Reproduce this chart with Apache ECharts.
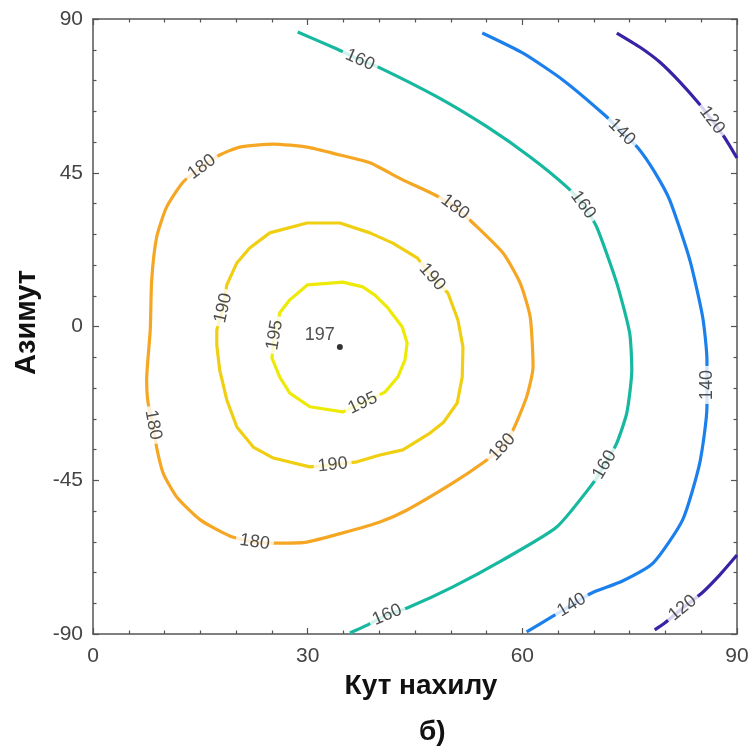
<!DOCTYPE html>
<html>
<head>
<meta charset="utf-8">
<script src="https://cdn.jsdelivr.net/npm/echarts@6/dist/echarts.min.js"></script>
<style>
  html, body { margin: 0; padding: 0; background: #fff; }
  #chart { width: 752px; height: 751px; }
</style>
</head>
<body>
<div id="chart"></div>
<script>
// axis ticks
var xTicks = [0, 30, 60, 90];
var yTicks = [-90, -45, 0, 45, 90];

// contour lines [кут нахилу, азимут]
var c120a = [[73.2, 85.9], [76.4, 81.8], [79.2, 77.4], [82.0, 71.6], [84.5, 65.7], [86.5, 60.4], [88.3, 55.2], [90, 49.3]];
var c120b = [[78.5, -88.8], [79.9, -86.8], [82.4, -82.4], [85.1, -78.0], [87.6, -72.7], [90, -66.9]];
var c140 = [[54.4, 85.9], [60.1, 80.0], [65.7, 72.1], [71.5, 61.9], [73.9, 56.9], [76.2, 52.2], [78.5, 45.2], [80.6, 37.0],
  [83.4, 19.5], [85.2, 2.8], [85.8, -9.8], [85.8, -17.1], [85.8, -23.5], [84.8, -39.9], [82.4, -56.6], [78.3, -69.2],
  [74.0, -74.5], [69.7, -78.0], [66.9, -81.5], [64.1, -85.0], [60.6, -89.4]];
var c160 = [[28.6, 86.2], [34.1, 81.2], [37.3, 78.0], [39.8, 76.0], [48.1, 67.2], [55.1, 58.4], [61.1, 49.6], [66.4, 40.5],
  [68.5, 35.6], [70.4, 29.1], [73.2, 12.7], [75.0, -1.9], [75.3, -12.7], [74.6, -25.3], [73.2, -34.1], [71.5, -40.5],
  [69.9, -45.8], [64.8, -58.7], [57.3, -68.3], [50.3, -76.2], [43.9, -82.4], [41.1, -84.4], [38.0, -87.7], [35.9, -89.7]];
var c180 = [[15.2, 46.7], [17.7, 50.2], [20.5, 52.5], [25.2, 53.4], [29.9, 52.5], [34.5, 50.2], [38.7, 47.9], [43.3, 42.9],
  [47.8, 38.5], [50.6, 35.0], [53.1, 30.3], [57.3, 21.5], [59.7, 12.7], [61.1, 2.8], [61.5, -11.8], [60.6, -20.6],
  [58.7, -30.3], [57.2, -35.3], [54.5, -39.9], [50.3, -45.8], [43.9, -53.7], [40.1, -57.2], [34.9, -60.4], [29.9, -63.1],
  [25.7, -63.4], [22.6, -63.1], [19.1, -61.3], [15.0, -56.6], [11.7, -49.9], [9.8, -42.9], [8.9, -35.5], [8.4, -28.8],
  [7.7, -22.4], [7.5, -15.6], [8.0, -1.0], [8.2, 13.6], [8.9, 26.2], [10.3, 35.0], [12.6, 42.3], [15.2, 46.7]];
var c190 = [[18.2, 5.4], [18.7, 12.2], [20.1, 18.6], [21.9, 23.0], [24.7, 27.4], [29.9, 30.3], [34.5, 30.3], [38.7, 27.4],
  [41.9, 24.4], [45.3, 20.1], [47.4, 14.5], [49.6, 9.8], [51.0, 1.9], [51.7, -6.0], [51.6, -14.8], [50.9, -22.4],
  [49.0, -28.0], [47.1, -31.2], [43.3, -36.1], [40.1, -37.6], [36.9, -39.6], [33.5, -40.5], [30.3, -41.1], [25.2, -38.5],
  [22.4, -35.3], [20.1, -29.4], [18.7, -21.5], [17.7, -12.7], [17.3, -5.4], [17.3, -1.0], [18.2, 5.4]];
var c195 = [[25.4, -2.5], [26.1, 4.0], [27.5, 7.8], [30.0, 12.2], [34.9, 13.0], [37.7, 11.6], [39.4, 9.2], [41.1, 5.7],
  [43.2, -0.1], [43.9, -4.8], [43.6, -9.8], [42.6, -14.8], [40.8, -19.2], [37.7, -22.4], [34.9, -25.0], [30.3, -23.5],
  [27.5, -19.5], [26.1, -14.8], [25.0, -9.2], [25.4, -2.5]];

// where the level numbers sit on the lines [x, y, level]
var contourLabels = [
  [86.5, 60.4, 120], [82.4, -82.4, 120],
  [73.9, 56.9, 140], [85.8, -17.1, 140], [66.9, -81.5, 140],
  [37.3, 78.0, 160], [68.5, 35.6, 160], [71.5, -40.5, 160], [41.1, -84.4, 160],
  [15.2, 46.7, 180], [50.6, 35.0, 180], [57.2, -35.3, 180], [22.6, -63.1, 180], [8.4, -28.8, 180],
  [18.2, 5.4, 190], [47.4, 14.5, 190], [33.5, -40.5, 190],
  [25.4, -2.5, 195], [37.7, -22.4, 195]
];
var peak = [34.5, -6.0];
var peakValue = 197;

var levelLines = {
  120: [c120a, c120b],
  140: [c140],
  160: [c160],
  180: [c180],
  190: [c190],
  195: [c195]
};
var levelColors = {
  120: "#3a22a6",
  140: "#1c80ec",
  160: "#17b8a0",
  180: "#f5a623",
  190: "#f0cf12",
  195: "#eeea08"
};

var font = "Liberation Sans, Arial, sans-serif";
var axisColor = "#555";

function boxAxis(extra) {
  var a = {
    type: "value",
    axisLine: { show: true, onZero: false, lineStyle: { color: axisColor, width: 1.5 } },
    axisTick: { show: true, inside: true, length: 6, lineStyle: { color: axisColor, width: 1.2 } },
    minorTick: { show: true, length: 3.5, lineStyle: { color: axisColor, width: 1.2 } },
    splitLine: { show: false },
    minorSplitLine: { show: false },
    axisLabel: { show: false }
  };
  for (var k in extra) a[k] = extra[k];
  return a;
}

var series = [];
Object.keys(levelLines).forEach(function (lv) {
  levelLines[lv].forEach(function (pts) {
    series.push({
      type: "line",
      data: pts,
      xAxisIndex: 0,
      yAxisIndex: 0,
      showSymbol: false,
      symbol: "none",
      smooth: lv >= 190 ? false : 0.2,
      lineStyle: { color: levelColors[lv], width: 3.2 },
      z: 2,
      silent: true
    });
  });
});

series.push({
  type: "scatter",
  data: [peak],
  symbol: "circle",
  symbolSize: 6,
  itemStyle: { color: "#000" },
  label: {
    show: true,
    position: "left",
    distance: 2,
    offset: [0, -12],
    formatter: String(peakValue),
    color: "#222",
    fontSize: 18,
    fontFamily: font
  },
  z: 6,
  silent: true
});

var option = {
  animation: false,
  backgroundColor: "#fff",
  grid: { left: 93, right: 15, top: 19, bottom: 117, containLabel: false },
  xAxis: [
    boxAxis({
      position: "bottom",
      min: xTicks[0],
      max: xTicks[xTicks.length - 1],
      interval: 30,
      minorTick: { show: true, splitNumber: 6, length: 3.5, lineStyle: { color: axisColor, width: 1.2 } },
      axisLabel: { show: true, color: "#444", fontSize: 21, fontFamily: font, margin: 12 },
      name: "Кут нахилу",
      nameLocation: "middle",
      nameGap: 35,
      nameTextStyle: { fontSize: 28, fontWeight: "bold", color: "#111", fontFamily: font, padding: [0, 0, 0, 12] }
    }),
    boxAxis({
      position: "top",
      min: xTicks[0],
      max: xTicks[xTicks.length - 1],
      interval: 30,
      minorTick: { show: true, splitNumber: 6, length: 3.5, lineStyle: { color: axisColor, width: 1.2 } }
    })
  ],
  yAxis: [
    boxAxis({
      position: "left",
      min: yTicks[0],
      max: yTicks[yTicks.length - 1],
      interval: 45,
      minorTick: { show: true, splitNumber: 5, length: 3.5, lineStyle: { color: axisColor, width: 1.2 } },
      axisLabel: { show: true, color: "#444", fontSize: 21, fontFamily: font, margin: 10 },
      name: "Азимут",
      nameLocation: "middle",
      nameGap: 52,
      nameRotate: 90,
      nameTextStyle: { fontSize: 29, fontWeight: "bold", color: "#111", fontFamily: font, padding: [0, 0, 0, 8] }
    }),
    boxAxis({
      position: "right",
      min: yTicks[0],
      max: yTicks[yTicks.length - 1],
      interval: 45,
      minorTick: { show: true, splitNumber: 5, length: 3.5, lineStyle: { color: axisColor, width: 1.2 } }
    })
  ],
  graphic: [
    {
      type: "text",
      left: 419,
      top: 718,
      style: { text: "б)", fontSize: 28, fontWeight: "bold", fill: "#111", fontFamily: font }
    }
  ],
  series: series
};

var myChart = echarts.init(document.getElementById("chart"));
myChart.setOption(option);

// label angle follows the contour line at that spot
function labelAngle(lbl) {
  var lines = levelLines[lbl[2]];
  var here = myChart.convertToPixel({ gridIndex: 0 }, [lbl[0], lbl[1]]);
  var best = null, bestD = Infinity;
  lines.forEach(function (pts) {
    pts.forEach(function (p, i) {
      var q = myChart.convertToPixel({ gridIndex: 0 }, p);
      var d = (q[0] - here[0]) * (q[0] - here[0]) + (q[1] - here[1]) * (q[1] - here[1]);
      if (d < bestD) { bestD = d; best = { pts: pts, i: i }; }
    });
  });
  var pts = best.pts, i = best.i, n = pts.length;
  var closed = pts[0][0] === pts[n - 1][0] && pts[0][1] === pts[n - 1][1];
  var prev = i > 0 ? pts[i - 1] : (closed ? pts[n - 2] : pts[0]);
  var next = i < n - 1 ? pts[i + 1] : (closed ? pts[1] : pts[n - 1]);
  var a = myChart.convertToPixel({ gridIndex: 0 }, prev);
  var b = myChart.convertToPixel({ gridIndex: 0 }, next);
  var ang = Math.atan2(-(b[1] - a[1]), b[0] - a[0]) * 180 / Math.PI;
  if (ang > 90) ang -= 180;
  if (ang <= -90) ang += 180;
  return ang;
}

var labelData = contourLabels.map(function (lbl) {
  return {
    value: [lbl[0], lbl[1]],
    label: { rotate: labelAngle(lbl), formatter: String(lbl[2]) }
  };
});

series.push({
  type: "scatter",
  data: labelData,
  symbolSize: 0,
  itemStyle: { color: "transparent" },
  label: {
    show: true,
    position: "inside",
    color: "#222",
    fontSize: 18,
    fontFamily: font,
    backgroundColor: "#fff",
    padding: [0, 4]
  },
  z: 5,
  silent: true
});
myChart.setOption({ series: series });
window.onresize = myChart.resize;
</script>
</body>
</html>
